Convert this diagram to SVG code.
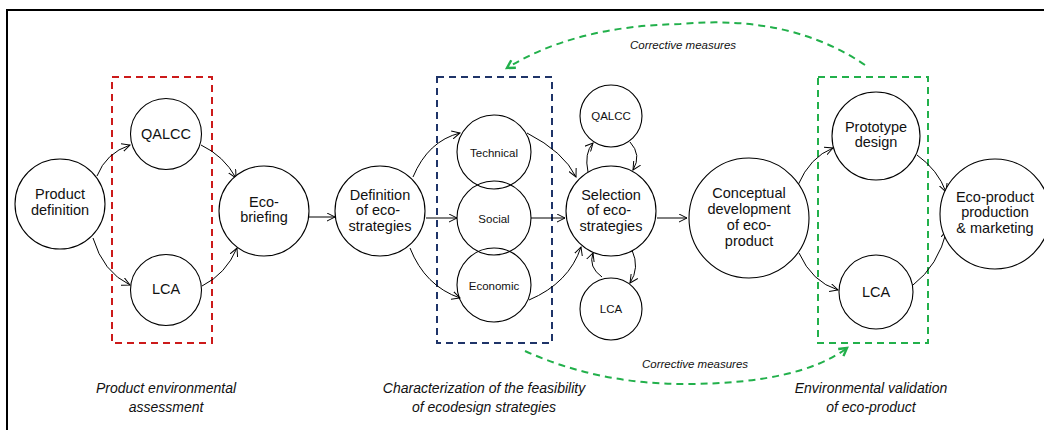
<svg xmlns="http://www.w3.org/2000/svg" width="1044" height="430" viewBox="0 0 1044 430">
  <defs>
    <style>
      .node { fill: #fff; stroke: #000; stroke-width: 1.1; }
      .ring { fill: none; stroke: #000; stroke-width: 1.1; }
      .lbl { font-family: "Liberation Sans", Arial, sans-serif; font-size: 14.5px; fill: #111; text-anchor: middle; }
      .sm { font-size: 11.5px; }
      .cap { font-family: "Liberation Sans", Arial, sans-serif; font-size: 14px; font-style: italic; fill: #111; text-anchor: middle; }
      .corr { font-family: "Liberation Sans", Arial, sans-serif; font-size: 11.5px; font-style: italic; fill: #111; text-anchor: middle; }
      .edge { fill: none; stroke: #000; stroke-width: 1; marker-end: url(#arr); }
      .loop { fill: none; stroke: #22b04b; stroke-width: 2; stroke-dasharray: 7 5; marker-end: url(#garr); }
      .box { fill: none; stroke-width: 2; stroke-dasharray: 7 5; }
    </style>
    <marker id="arr" viewBox="0 0 10 10" refX="9" refY="5" markerWidth="9" markerHeight="9" markerUnits="userSpaceOnUse" orient="auto">
      <path d="M0,0.5 L9,5 L0,9.5" fill="none" stroke="#000" stroke-width="1.1"/>
    </marker>
    <marker id="garr" viewBox="0 0 10 10" refX="8" refY="5" markerWidth="11" markerHeight="11" markerUnits="userSpaceOnUse" orient="auto">
      <path d="M1,1 L8,5 L1,9" fill="none" stroke="#22b04b" stroke-width="2.2"/>
    </marker>
  </defs>

  <rect width="1044" height="430" fill="#fff"/>
  <!-- outer frame -->
  <rect x="7" y="10" width="1060" height="440" fill="none" stroke="#000" stroke-width="2"/>

  <!-- grouping boxes -->
  <g id="groups">
    <rect class="box" x="112" y="77" width="100" height="266" stroke="#cc1a1a"/>
    <rect class="box" x="437" y="77" width="115" height="266" stroke="#1f3468"/>
    <rect class="box" x="818" y="77" width="110" height="266" stroke="#22b04b"/>
  </g>

  <!-- connectors -->
  <g id="connectors">
    <path class="edge" d="M97,176 Q106,153 130,145"/>
    <path class="edge" d="M93,238 Q103,272 130,285"/>
    <path class="edge" d="M201,145 Q224,156 236,178"/>
    <path class="edge" d="M202,286 Q226,274 237,248"/>
    <path class="edge" d="M309,217 L335,217"/>

    <path class="edge" d="M413,177 Q428,141 460,133"/>
    <path class="edge" d="M426,218 L457,218"/>
    <path class="edge" d="M410,248 Q425,286 460,298"/>
    <path class="edge" d="M527,133 Q564,152 576,177"/>
    <path class="edge" d="M531,218 L565,218"/>
    <path class="edge" d="M529,300 Q569,283 581,247"/>

    <path class="edge" d="M588,172 Q584,153 593,143"/>
    <path class="edge" d="M630,142 Q642,155 633,170"/>
    <path class="edge" d="M602,277 Q588,267 593,253"/>
    <path class="edge" d="M632,250 Q640,268 630,283"/>

    <path class="edge" d="M657,218 L687,218"/>
    <path class="edge" d="M798,185 Q810,157 833,148"/>
    <path class="edge" d="M799,253 Q812,282 838,290"/>
    <path class="edge" d="M917,155 Q938,170 946,192"/>
    <path class="edge" d="M913,285 Q938,266 947,230"/>

    <!-- feedback loops -->
    <path class="loop" d="M865,65 Q790,14 680,24 Q575,26 507,68"/>
    <path class="loop" d="M525,351 Q600,385 690,384 Q800,383 847,348"/>
  </g>

  <!-- nodes -->
  <g id="product-definition">
    <circle class="node" cx="60" cy="204" r="45"/>
    <text class="lbl" x="60" y="199">Product</text>
    <text class="lbl" x="60" y="215">definition</text>
  </g>
  <g id="qalcc-1">
    <circle class="node" cx="166" cy="134" r="35.5"/>
    <text class="lbl" x="166" y="139">QALCC</text>
  </g>
  <g id="lca-1">
    <circle class="node" cx="166" cy="290" r="35.5"/>
    <text class="lbl" x="166" y="294">LCA</text>
  </g>
  <g id="eco-briefing">
    <circle class="node" cx="264" cy="211" r="45"/>
    <text class="lbl" x="264" y="207">Eco-</text>
    <text class="lbl" x="264" y="222">briefing</text>
  </g>
  <g id="definition-strategies">
    <circle class="node" cx="380" cy="211" r="45"/>
    <text class="lbl" x="380" y="200">Definition</text>
    <text class="lbl" x="378" y="215">of eco-</text>
    <text class="lbl" x="380" y="231">strategies</text>
  </g>
  <g id="technical">
    <circle class="ring" cx="494" cy="152" r="37"/>
    <text class="lbl sm" x="494" y="157">Technical</text>
  </g>
  <g id="social">
    <circle class="ring" cx="494" cy="218" r="37"/>
    <text class="lbl sm" x="494" y="223">Social</text>
  </g>
  <g id="economic">
    <circle class="ring" cx="494" cy="285" r="37"/>
    <text class="lbl sm" x="494" y="290">Economic</text>
  </g>
  <g id="selection-strategies">
    <circle class="node" cx="611" cy="211" r="45"/>
    <text class="lbl" x="611" y="200">Selection</text>
    <text class="lbl" x="609" y="215">of eco-</text>
    <text class="lbl" x="611" y="231">strategies</text>
  </g>
  <g id="qalcc-2">
    <circle class="node" cx="611" cy="116" r="31"/>
    <text class="lbl sm" x="611" y="120">QALCC</text>
  </g>
  <g id="lca-2">
    <circle class="node" cx="611" cy="309" r="31"/>
    <text class="lbl sm" x="611" y="313">LCA</text>
  </g>
  <g id="conceptual-development">
    <circle class="node" cx="749" cy="218" r="60"/>
    <text class="lbl" x="749" y="198">Conceptual</text>
    <text class="lbl" x="749" y="214">development</text>
    <text class="lbl" x="749" y="230">of eco-</text>
    <text class="lbl" x="749" y="246">product</text>
  </g>
  <g id="prototype-design">
    <circle class="node" cx="876" cy="136" r="44"/>
    <text class="lbl" x="876" y="132">Prototype</text>
    <text class="lbl" x="876" y="147">design</text>
  </g>
  <g id="lca-3">
    <circle class="node" cx="876" cy="292" r="37"/>
    <text class="lbl" x="876" y="297">LCA</text>
  </g>
  <g id="production-marketing">
    <circle class="node" cx="995" cy="214" r="55"/>
    <text class="lbl" x="995" y="202">Eco-product</text>
    <text class="lbl" x="995" y="217">production</text>
    <text class="lbl" x="995" y="233">&amp; marketing</text>
  </g>

  <!-- captions -->
  <g id="captions">
    <text class="corr" x="683" y="49">Corrective measures</text>
    <text class="corr" x="695" y="368">Corrective measures</text>
    <text class="cap" x="166" y="393">Product environmental</text>
    <text class="cap" x="166" y="412">assessment</text>
    <text class="cap" x="484" y="393">Characterization of the feasibility</text>
    <text class="cap" x="484" y="412">of ecodesign strategies</text>
    <text class="cap" x="871" y="393">Environmental validation</text>
    <text class="cap" x="871" y="412">of eco-product</text>
  </g>
</svg>
